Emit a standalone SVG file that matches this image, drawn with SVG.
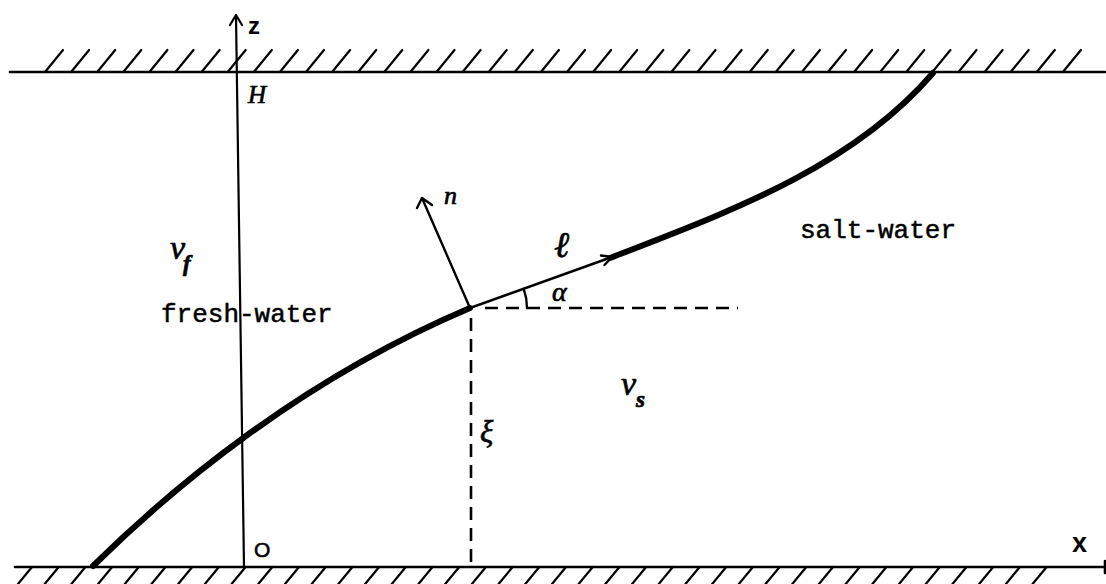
<svg xmlns="http://www.w3.org/2000/svg" width="1106" height="584" viewBox="0 0 1106 584">
<style>
.wall{stroke:#000;stroke-width:2.6;fill:none;stroke-linecap:round}
.hatch{stroke:#000;stroke-width:2.2;fill:none;stroke-linecap:round}
.axis{stroke:#000;stroke-width:2.2;fill:none;stroke-linecap:round;stroke-linejoin:round}
.iface{stroke:#000;stroke-width:6;fill:none;stroke-linecap:round}
.thin{stroke:#000;stroke-width:2.4;fill:none;stroke-linecap:round;stroke-linejoin:round}
.dash{stroke:#000;stroke-width:2.6;fill:none;stroke-dasharray:13 8}
.mono{font-family:"Liberation Mono","Courier New",monospace;font-size:26px;fill:#000;stroke:#000;stroke-width:0.5}
.sans{font-family:"Liberation Sans",Arial,sans-serif;fill:#000}
.ital{font-family:"Liberation Serif","DejaVu Serif",serif;font-style:italic;fill:#000;stroke:#000;stroke-width:0.7}
</style>
<rect width="1106" height="584" fill="#fff"/>
<g id="top-wall">
<path class="wall" d="M10,72 L1105,72"/>
<path class="hatch" d="M45,72 l18,-22 m8.1,22 l18,-22 m8.1,22 l18,-22 m8.1,22 l18,-22 m8.1,22 l18,-22 m8.1,22 l18,-22 m8.1,22 l18,-22 m8.1,22 l18,-22 m8.1,22 l18,-22 m8.1,22 l18,-22 m8.1,22 l18,-22 m8.1,22 l18,-22 m8.1,22 l18,-22 m8.1,22 l18,-22 m8.1,22 l18,-22 m8.1,22 l18,-22 m8.1,22 l18,-22 m8.1,22 l18,-22 m8.1,22 l18,-22 m8.1,22 l18,-22 m8.1,22 l18,-22 m8.1,22 l18,-22 m8.1,22 l18,-22 m8.1,22 l18,-22 m8.1,22 l18,-22 m8.1,22 l18,-22 m8.1,22 l18,-22 m8.1,22 l18,-22 m8.1,22 l18,-22 m8.1,22 l18,-22 m8.1,22 l18,-22 m8.1,22 l18,-22 m8.1,22 l18,-22 m8.1,22 l18,-22 m8.1,22 l18,-22 m8.1,22 l18,-22 m8.1,22 l18,-22 m8.1,22 l18,-22 m8.1,22 l18,-22 m8.1,22 l18,-22"/>
</g>
<g id="bottom-wall">
<path class="wall" d="M15,567 L1105,567"/>
<path class="wall" d="M1105,561 L1105,573"/>
<path class="hatch" d="M32,567 l-14,17 m40.7,-17 l-14,17 m40.7,-17 l-14,17 m40.7,-17 l-14,17 m40.7,-17 l-14,17 m40.7,-17 l-14,17 m40.7,-17 l-14,17 m40.7,-17 l-14,17 m40.7,-17 l-14,17 m40.7,-17 l-14,17 m40.7,-17 l-14,17 m40.7,-17 l-14,17 m40.7,-17 l-14,17 m40.7,-17 l-14,17 m40.7,-17 l-14,17 m40.7,-17 l-14,17 m40.7,-17 l-14,17 m40.7,-17 l-14,17 m40.7,-17 l-14,17 m40.7,-17 l-14,17 m40.7,-17 l-14,17 m40.7,-17 l-14,17 m40.7,-17 l-14,17 m40.7,-17 l-14,17 m40.7,-17 l-14,17 m40.7,-17 l-14,17 m40.7,-17 l-14,17 m40.7,-17 l-14,17 m40.7,-17 l-14,17 m40.7,-17 l-14,17 m40.7,-17 l-14,17 m40.7,-17 l-14,17 m40.7,-17 l-14,17 m40.7,-17 l-14,17 m40.7,-17 l-14,17 m40.7,-17 l-14,17 m40.7,-17 l-14,17 m40.7,-17 l-14,17 m40.7,-17 l-14,17"/>
</g>
<g id="z-axis">
<path class="axis" d="M244,567 L236,16"/>
<path class="axis" d="M230,25 L236,15 L242,25"/>
<text class="sans" x="248" y="34" font-size="24" font-weight="bold">z</text>
<text class="ital" x="248" y="103" font-size="25">H</text>
<text class="sans" x="254" y="557" font-size="21" stroke="#000" stroke-width="0.6">O</text>
</g>
<g id="x-axis-label">
<text class="sans" x="1072" y="552" font-size="27" font-weight="bold">x</text>
</g>
<g id="interface">
<path class="iface" d="M93,566 C170,490 300,380 470,308"/>
<path class="thin" d="M470,308 L612,257"/>
<path class="thin" d="M604.5,265 L612,257 L601,255.5"/>
<path class="iface" d="M610,258 C720,215 850,170 933,73"/>
<text class="ital" x="554" y="257" font-size="36">ℓ</text>
</g>
<g id="normal">
<path class="thin" d="M470,308 L422,198"/>
<path class="thin" d="M417,208 L422,198 L432,205"/>
<text class="ital" x="444" y="204" font-size="26">n</text>
</g>
<g id="angle">
<path class="thin" d="M527,308 A57,57 0 0 0 523.7,288.8"/>
<text class="ital" x="552" y="301" font-size="28">α</text>
</g>
<g id="connectors">
<path class="dash" d="M485,308 L738,308"/>
<path class="dash" d="M471,318 L471,567"/>
</g>
<g id="xi-label">
<text class="ital" x="480" y="442" font-size="31">ξ</text>
</g>
<g id="fresh-water">
<text class="ital" x="170" y="259" font-size="34">ν</text>
<text class="ital" x="183" y="271" font-size="23" font-weight="bold">f</text>
<text class="mono" x="161" y="322">fresh-water</text>
</g>
<g id="salt-water">
<text class="mono" x="800" y="238">salt-water</text>
<text class="ital" x="621" y="395" font-size="34">ν</text>
<text class="ital" x="636" y="407" font-size="23" font-weight="bold">s</text>
</g>
</svg>
